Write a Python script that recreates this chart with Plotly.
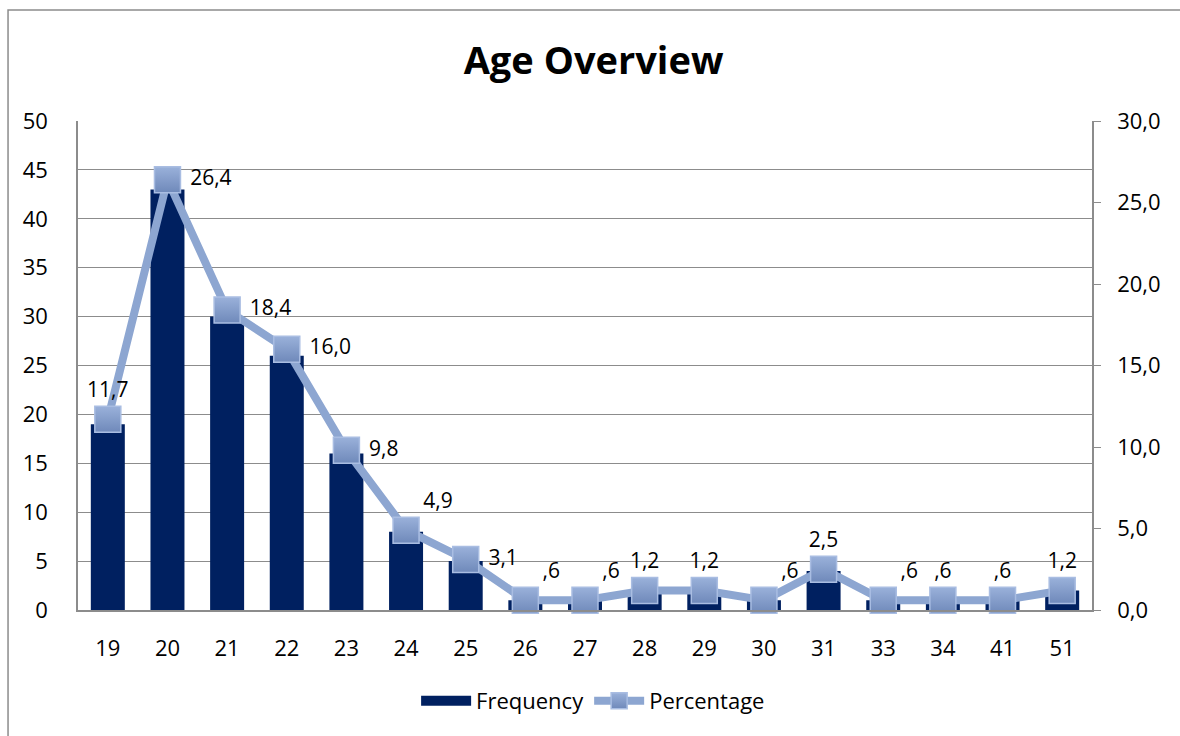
import plotly.graph_objects as go

# Age distribution of respondents
ages = ["19", "20", "21", "22", "23", "24", "25", "26", "27", "28",
        "29", "30", "31", "33", "34", "41", "51"]
frequency = [19, 43, 30, 26, 16, 8, 5, 1, 1, 2, 2, 1, 4, 1, 1, 1, 2]
percentage = [11.7, 26.4, 18.4, 16.0, 9.8, 4.9, 3.1, 0.6, 0.6, 1.2,
              1.2, 0.6, 2.5, 0.6, 0.6, 0.6, 1.2]
label_pos = ["top center", "middle right", "middle right", "middle right",
             "middle right", "top right", "middle right", "top right",
             "top right", "top center", "top center", "top right",
             "top center", "top right", "top center", "top center",
             "top center"]


def fmt(v):
    s = f"{v:.1f}".replace(".", ",")
    return s[1:] if s.startswith("0,") else s


labels = [" " + fmt(v) if p == "middle right" else fmt(v)
          for v, p in zip(percentage, label_pos)]

FONT = "'Open Sans', Lato, sans-serif"
GRID = "#8c8c8c"
NAVY = "#002060"

fig = go.Figure()

fig.add_trace(go.Bar(
    x=ages, y=frequency, name="Frequency", showlegend=False,
    marker=dict(color=NAVY, line=dict(width=0)),
    yaxis="y",
))

# legend entry for the bars, drawn as a wide block
fig.add_trace(go.Scatter(
    x=[None], y=[None], name="Frequency", mode="lines",
    line=dict(color=NAVY, width=16), yaxis="y",
))

fig.add_trace(go.Scatter(
    x=ages, y=percentage, name="Percentage",
    mode="lines+markers+text",
    line=dict(color="#8DA6D1", width=8),
    marker=dict(symbol="square", size=26, color="#9AB1DA",
                gradient=dict(type="vertical", color="#6F89BA"),
                line=dict(color="#A9BDE2", width=1.5)),
    text=labels, textposition=label_pos,
    textfont=dict(family=FONT, size=21, color="#000000"),
    cliponaxis=False,
    yaxis="y2",
))

fig.update_layout(
    width=1180, height=736,
    margin=dict(l=78, r=88, t=121, b=126),
    paper_bgcolor="white", plot_bgcolor="white",
    separators=",.",
    font=dict(family=FONT, size=22, color="#000000"),
    title=dict(text="<b>Age Overview</b>", x=0.503, xanchor="center",
               y=0.918, yanchor="middle",
               font=dict(family=FONT, size=38, color="#000000")),
    bargap=0.43,
    showlegend=True,
    legend=dict(orientation="h", x=0.508, xanchor="center", y=-0.186,
                yanchor="middle", font=dict(family=FONT, size=22),
                itemwidth=50, tracegroupgap=0),
    xaxis=dict(type="category", range=[-0.5, 16.5], showgrid=False,
               showline=True, linecolor=GRID, linewidth=1.5, ticks="",
               tickfont=dict(size=22), ticklabelstandoff=18),
    yaxis=dict(range=[0, 50], dtick=5, showgrid=True, gridcolor=GRID,
               gridwidth=1.2, showline=True, linecolor=GRID, linewidth=1.5,
               ticks="", zeroline=False, tickfont=dict(size=22),
               ticklabelstandoff=24),
    yaxis2=dict(range=[0, 30], dtick=5, tickformat=".1f", overlaying="y",
                side="right", showgrid=False, showline=True,
                linecolor=GRID, linewidth=1.5, ticks="outside",
                ticklen=7, tickcolor=GRID, zeroline=False,
                tickfont=dict(size=22), ticklabelstandoff=12),
    shapes=[dict(type="rect", xref="paper", yref="paper",
                 x0=-0.069, x1=1.2, y0=-0.4, y1=1.227,
                 line=dict(color="#8c8c8c", width=1.5),
                 fillcolor="rgba(0,0,0,0)", layer="below")],
)

fig.write_html("out.html")
